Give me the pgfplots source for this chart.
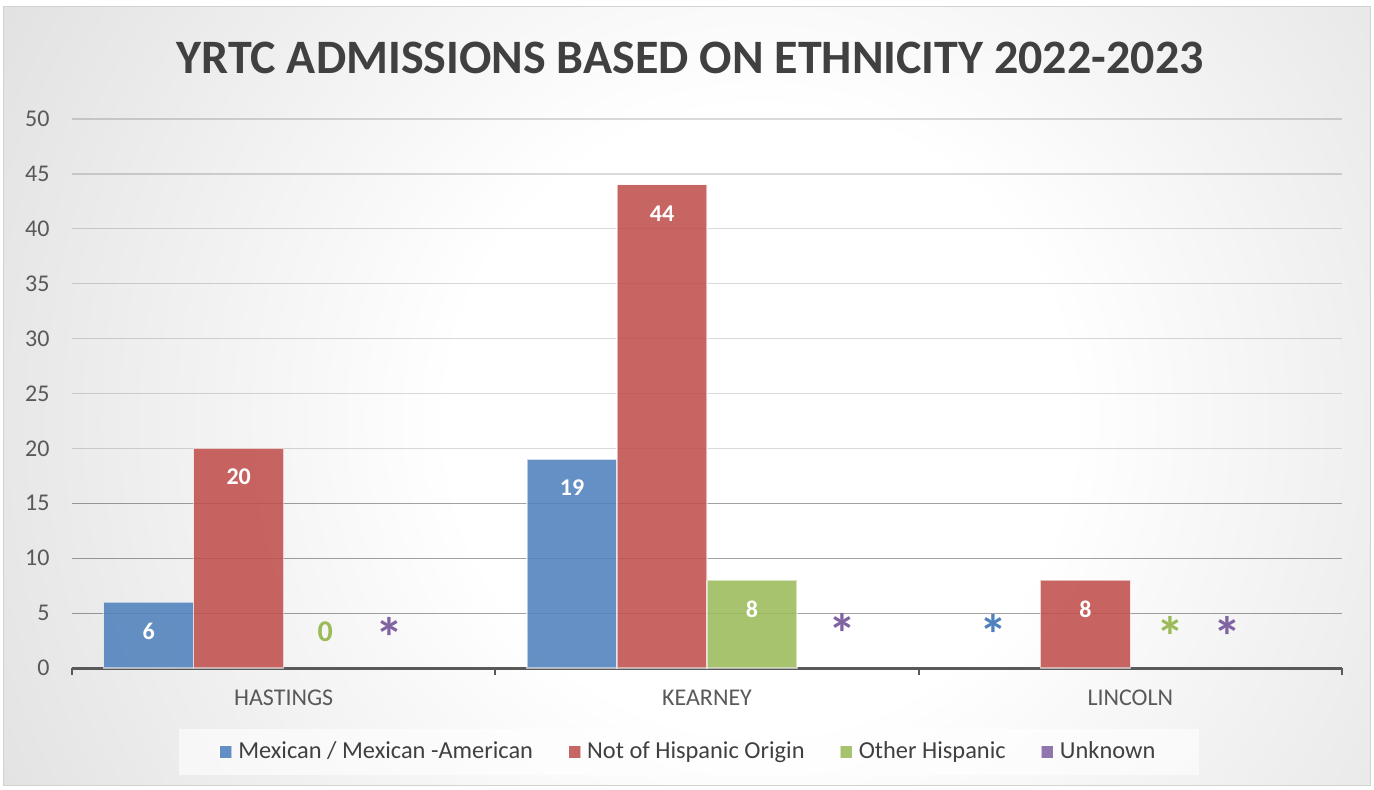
\documentclass[border=0pt]{standalone}
\usepackage{fontspec}
\setmainfont{Carlito}
\usepackage{pgfplots}
\pgfplotsset{compat=1.18}

\definecolor{mxblue}{HTML}{4F81BD}
\definecolor{nhred}{HTML}{C0504D}
\definecolor{ohgreen}{HTML}{9BBB59}
\definecolor{unpurple}{HTML}{8064A2}
\definecolor{txtgray}{HTML}{595959}
\definecolor{ttlgray}{HTML}{404040}
\definecolor{bgedge}{HTML}{B4B4B4}
\pgfdeclareradialshading{chartbg}{\pgfpoint{0bp}{0bp}}{color(0bp)=(white); color(9bp)=(white); color(50bp)=(bgedge)}

\pgfplotsset{
  admbar/.style n args={2}{ybar, bar width=45pt, bar shift=#2, fill=#1, fill opacity=0.88,
    draw=white, draw opacity=0.55, line width=0.6pt,
    nodes near coords,
    nodes near coords style={text=white, text opacity=1, inner sep=0pt,
      font=\bfseries\fontsize{12}{14}\selectfont, anchor=north, xshift=#2, yshift=-10pt},
    legend image code/.code={\fill[fill=#1, fill opacity=0.88] (0pt,-3.2pt) rectangle (6pt,3.2pt);}},
  note/.style={forget plot, only marks, mark=*, mark size=0pt,
    mark options={draw=none, fill=none},
    point meta=explicit symbolic, nodes near coords,
    nodes near coords style={text=#1, anchor=center, inner sep=0pt, yshift=-4.9pt,
      font=\bfseries\fontsize{28}{30}\selectfont}},
}

\begin{document}
\begin{tikzpicture}
\useasboundingbox (0pt,0pt) rectangle (687pt,394.5pt);
% chart area with radial background
\begin{scope}
  \clip (1.5pt,2pt) rectangle (685pt,391pt);
  \shade[shading=chartbg] (380pt,184.5pt) circle (431pt);
\end{scope}
\draw[gray!35, line width=0.5pt] (1.5pt,2pt) rectangle (685pt,391pt);

\node[font=\bfseries\fontsize{24}{28}\selectfont, text=ttlgray] at (345pt,365.5pt)
  {YRTC ADMISSIONS BASED ON ETHNICITY 2022-2023};

\begin{axis}[
  at={(36pt,60.5pt)}, anchor=south west,
  width=635pt, height=274.5pt, scale only axis,
  xmin=-0.5, xmax=2.5, ymin=0, ymax=50,
  xtick={0,1,2}, xticklabels={HASTINGS,KEARNEY,LINCOLN},
  minor xtick={-0.5,0.5,1.5,2.5},
  ytick={0,5,...,50},
  axis x line*=bottom, axis y line*=left,
  y axis line style={draw=none},
  x axis line style={line width=1.5pt, draw=txtgray},
  tick align=outside,
  major tick length=0pt, minor tick length=3.5pt,
  minor tick style={line width=1pt, draw=txtgray},
  ymajorgrids,
  grid style={black, opacity=0.15, line width=0.6pt},
  extra y ticks={5,10,15}, extra y tick labels={},
  extra y tick style={grid style={black, opacity=0.25, line width=0.6pt}},
  ticklabel style={font=\fontsize{12}{14}\selectfont, text=txtgray},
  /pgf/number format/assume math mode=true,
  yticklabel style={xshift=-7.7pt},
  xticklabel style={yshift=-7.5pt},
  legend columns=4,
  legend cell align=left,
  legend style={at={(0.486,-0.153)}, anchor=center, draw=none,
    fill=white, fill opacity=0.6, text opacity=1,
    font=\fontsize{12.2}{14}\selectfont, text=ttlgray,
    inner xsep=20pt, inner ysep=4.5pt,
    /tikz/every odd column/.append style={column sep=1pt},
    /tikz/every even column/.append style={column sep=15.5pt}},
]
\addplot[admbar={mxblue}{-67.5pt}] coordinates {(0,6) (1,19)};
\addplot[admbar={nhred}{-22.5pt}] coordinates {(0,20) (1,44) (2,8)};
\addplot[admbar={ohgreen}{22.5pt}] coordinates {(1,8)};
\addlegendimage{admbar={unpurple}{67.5pt}}

% suppressed / zero values
\addplot[note=ohgreen, nodes near coords style={yshift=4.9pt, font=\bfseries\fontsize{15}{17}\selectfont}]
  coordinates {(0.098,3.3) [0]};
\addplot[note=ohgreen] coordinates {(2.094,3.73) [*]};
\addplot[note=mxblue] coordinates {(1.676,3.94) [*]};
\addplot[note=unpurple] coordinates {(0.251,3.64) [*] (1.321,4.0) [*] (2.229,3.73) [*]};

\legend{Mexican / Mexican -American, Not of Hispanic Origin, Other Hispanic, Unknown}
\end{axis}
\end{tikzpicture}
\end{document}
